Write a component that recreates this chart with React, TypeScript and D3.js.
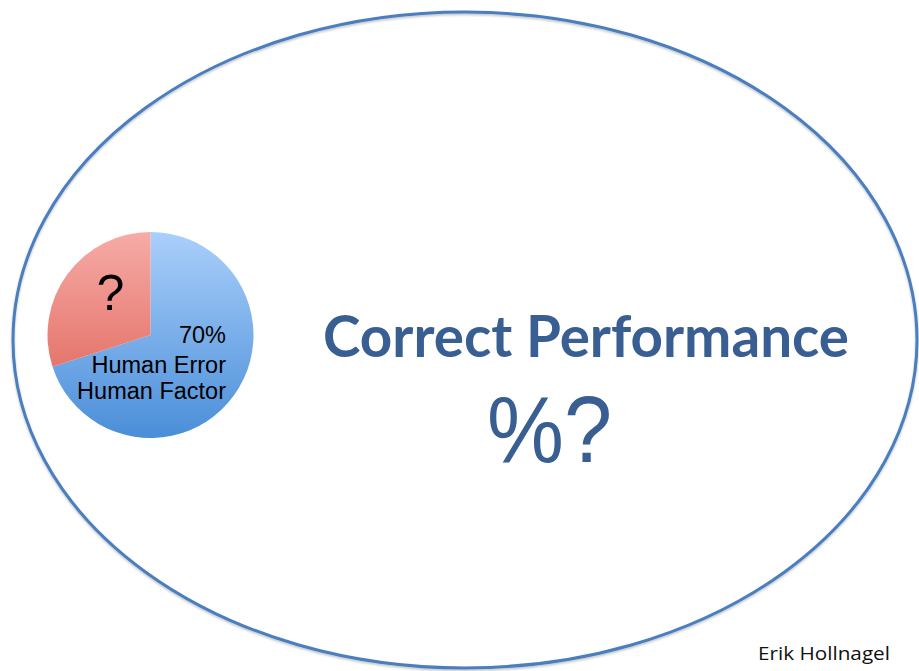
import { useEffect, useRef } from 'react';
import * as d3 from 'd3';

const sliceLabels = ['Human Error', 'Unknown'];
const sliceValues = [70, 30];
const sliceTop = ['#aacffb', '#f7aba7'];
const sliceBottom = ['#4a8ed8', '#db5a4d'];
const pctText = '70%';
const blueLines = ['Human Error', 'Human Factor'];
const title = 'Correct Performance';
const subtitle = '%?';
const credit = 'Erik Hollnagel';

const App = () => {
  const svgRef = useRef<SVGSVGElement>(null);

  useEffect(() => {
    const width = 919;
    const height = 671;
    const svg = d3.select(svgRef.current);
    svg.selectAll('*').remove();
    svg.attr('width', width).attr('height', height);

    const defs = svg.append('defs');
    const shadow = defs.append('filter').attr('id', 'sh').attr('x', '-5%').attr('y', '-5%').attr('width', '110%').attr('height', '110%');
    shadow.append('feDropShadow').attr('dx', 0).attr('dy', 1.5).attr('stdDeviation', 1.2).attr('flood-color', '#000').attr('flood-opacity', 0.25);

    // big ellipse
    svg.append('ellipse')
      .attr('cx', 465).attr('cy', 340)
      .attr('rx', 452).attr('ry', 328)
      .attr('fill', 'none')
      .attr('stroke', '#4a7ebf')
      .attr('stroke-width', 3)
      .attr('filter', 'url(#sh)');

    // pie
    const cx = 150.5;
    const cy = 335;
    const r = 103;

    sliceValues.forEach((_, i) => {
      const g = defs.append('linearGradient')
        .attr('id', `grad${i}`)
        .attr('gradientUnits', 'userSpaceOnUse')
        .attr('x1', 0).attr('x2', 0)
        .attr('y1', -r).attr('y2', r);
      g.append('stop').attr('offset', '0%').attr('stop-color', sliceTop[i]);
      g.append('stop').attr('offset', '100%').attr('stop-color', sliceBottom[i]);
    });

    const pie = d3.pie<number>().sort(null).value(d => d);
    const arc = d3.arc<d3.PieArcDatum<number>>().innerRadius(0).outerRadius(r);

    const pg = svg.append('g').attr('transform', `translate(${cx},${cy})`);
    pg.selectAll('path')
      .data(pie(sliceValues))
      .join('path')
      .attr('d', arc)
      .attr('fill', (_, i) => `url(#grad${i})`)
      .attr('data-label', (_, i) => sliceLabels[i]);

    pg.append('text')
      .attr('x', -40).attr('y', -25)
      .attr('text-anchor', 'middle')
      .style('font-family', 'Liberation Sans, Arial, sans-serif')
      .style('font-size', '50px')
      .attr('fill', '#000')
      .text('?');

    const lines = [pctText, ...blueLines];
    const lineY = [8, 38, 64];
    pg.selectAll('text.lbl')
      .data(lines)
      .join('text')
      .attr('class', 'lbl')
      .attr('x', 75.5)
      .attr('y', (_, i) => lineY[i])
      .attr('text-anchor', 'end')
      .style('font-family', 'Liberation Sans, Arial, sans-serif')
      .style('font-size', '23.5px')
      .attr('fill', '#000')
      .text(d => d);

    // center texts
    svg.append('text')
      .attr('x', 586).attr('y', 357)
      .attr('text-anchor', 'middle')
      .attr('textLength', 526)
      .attr('lengthAdjust', 'spacingAndGlyphs')
      .style('font-family', 'Lato, sans-serif')
      .style('font-weight', 700)
      .style('font-size', '57px')
      .attr('fill', '#395f92')
      .text(title);

    svg.append('text')
      .attr('x', 487).attr('y', 462)
      .attr('textLength', 125)
      .attr('lengthAdjust', 'spacingAndGlyphs')
      .style('font-family', 'Liberation Sans, Arial, sans-serif')
      .style('font-size', '94px')
      .attr('fill', '#395f92')
      .text(subtitle);

    svg.append('text')
      .attr('x', 758).attr('y', 660)
      .attr('textLength', 132)
      .attr('lengthAdjust', 'spacingAndGlyphs')
      .style('font-family', 'Open Sans, sans-serif')
      .style('font-size', '18px')
      .attr('fill', '#111')
      .text(credit);
  }, []);

  return <svg ref={svgRef} style={{ position: 'absolute', left: 0, top: 0, display: 'block' }} />;
};

export default App;
